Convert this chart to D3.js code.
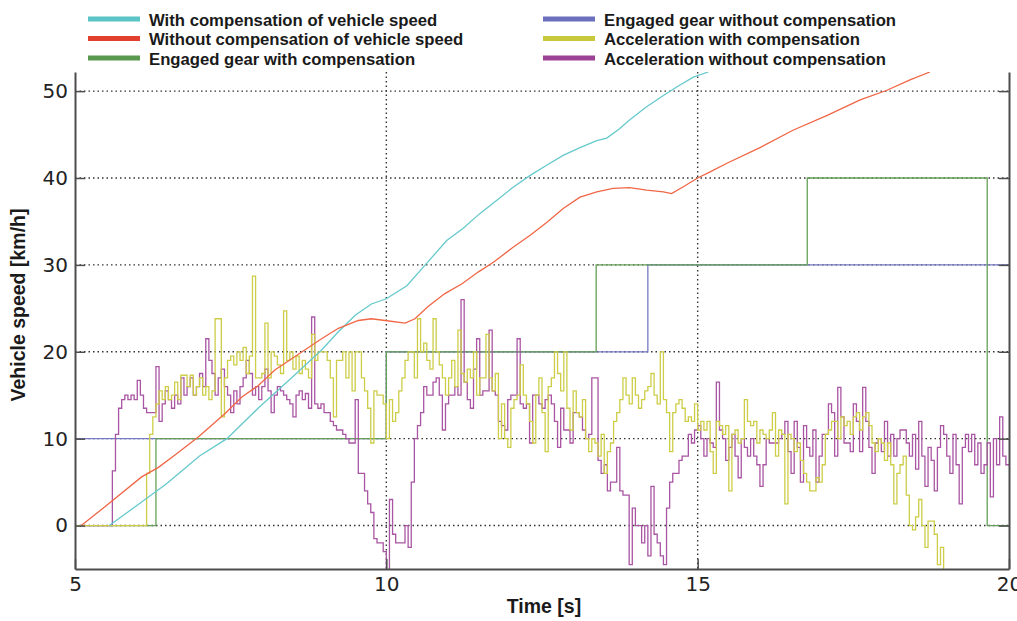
<!DOCTYPE html>
<html>
<head>
<meta charset="utf-8">
<title>Vehicle speed</title>
<script src="https://d3js.org/d3.v7.min.js"></script>
<style>
  body { margin: 0; background: #fff; }
  svg text { font-family: "Liberation Sans", Arial, sans-serif; }
  .grid line { stroke: #333; stroke-width: 1.4; stroke-dasharray: 1.5,3; }
  .axis path, .axis line { stroke: #4d4d4d; }
  .axis path { stroke-width: 2; }
  .axis line { stroke-width: 1.5; }
  .axis text { font-family: "DejaVu Sans", sans-serif; font-size: 20px; fill: #222; }
  .series { fill: none; stroke-width: 1.3; }
</style>
</head>
<body>
<svg id="chart" width="1017" height="621"></svg>
<script>
// ---- data ----
const xTicks = [5, 10, 15, 20];
const yTicks = [0, 10, 20, 30, 40, 50];

const seriesNames = [
  "With compensation of vehicle speed",
  "Without compensation of vehicle speed",
  "Engaged gear with compensation",
  "Engaged gear without compensation",
  "Acceleration with compensation",
  "Acceleration without compensation"
];

// vehicle speed with compensation (cyan)
const speedWithT = [5.55, 6.07, 6.47, 7.0, 7.44, 7.94, 8.48, 8.96, 9.23, 9.5, 9.76, 10.0, 10.33, 10.65, 10.97, 11.23, 11.5, 11.77, 12.03, 12.31, 12.58, 12.84, 13.11, 13.38, 13.54, 13.75, 13.91, 14.18, 14.45, 14.67, 14.93, 15.17];
const speedWithV = [0, 2.7, 4.8, 8.0, 10, 13.5, 17, 20.2, 22.3, 24.2, 25.5, 26.1, 27.6, 30.2, 32.8, 34.2, 35.9, 37.4, 38.9, 40.3, 41.5, 42.6, 43.5, 44.3, 44.6, 45.7, 46.7, 48.2, 49.5, 50.5, 51.6, 52.2];

// vehicle speed without compensation (red)
const speedWithoutT = [5.1, 5.54, 6.07, 6.34, 6.6, 6.98, 7.41, 7.68, 7.94, 8.21, 8.48, 8.75, 8.96, 9.23, 9.55, 9.76, 9.98, 10.3, 10.46, 10.67, 10.94, 11.21, 11.48, 11.72, 12.03, 12.31, 12.58, 12.84, 13.11, 13.38, 13.64, 13.91, 14.18, 14.45, 14.58, 14.77, 15.0, 15.2, 15.47, 16.0, 16.53, 17.08, 17.61, 18.04, 18.41, 18.73];
const speedWithoutV = [0, 2.5, 5.6, 6.7, 8.1, 10.2, 12.9, 14.8, 16.1, 17.9, 19.2, 20.5, 21.5, 22.7, 23.6, 23.8, 23.6, 23.3, 23.8, 25.2, 26.7, 27.8, 29.2, 30.3, 32, 33.4, 34.9, 36.5, 37.8, 38.4, 38.8, 38.9, 38.6, 38.4, 38.2, 39, 40, 40.7, 41.7, 43.5, 45.5, 47.2, 49, 50.1, 51.3, 52.2];

// engaged gear (step)
const gearWithT = [5, 6.3, 10, 13.37, 16.76, 19.65, 20];
const gearWithV = [0, 10, 20, 30, 40, 0, 0];
const gearWithoutT = [5, 10, 14.2, 20];
const gearWithoutV = [10, 20, 30, 30];

// acceleration samples, every 0.05 s from 5.00 s
const accStart = 5, accStep = 0.05;
const accWith = [
  0,0,0,0,0,0,0,0,0,0,0,0,0,0,0,0,0,0,0,0,
  0,0,0,6,10.5,12.5,14,15.5,14.5,16,14.5,15,16.5,14.5,17.3,17.3,16,17.3,15,16,
  17,15,16,14.5,15.5,23.8,23.8,12.5,17,19,19.5,18.5,20,19,20.5,17.5,19.5,28.7,17,17,
  17.5,23.3,17,20,19.5,18.5,17.5,24.7,19,20,18,19.5,17.5,19,18,17,22,19,20,20,
  20,19,17,12.5,19,19,20,17,20,15.5,20,20,17,15.5,13.5,9.5,15.5,15,15,14,
  10,14.5,12,13,15.5,17,19,20,20,17,23.8,20,21,19,18,23.8,20,18.5,17,15,
  17,19,16,22.5,17.5,16.5,18,17,20,15,17,17,22,17,15.5,17.5,10,14,10,9,
  13.5,14.5,15,18.5,15,14,12,9.5,15,17,13,8.5,16,17,20,17.5,15.5,20,13.5,11,
  15.5,13,12.5,14.5,10,8.5,10,9.5,8,10.5,6,8.5,9.5,12,13,14.5,17,15,14,17,
  15,13.5,14.5,15.5,16,17.5,15,14,20,14.5,13,8.5,13,14,14.5,13.5,12,12.5,12,14,
  11,12,11,12,8.5,6,12,11.5,10.5,11.5,4,10.5,11,9.5,10,14.5,12,11.5,12,9.5,
  11,10.5,10,11,13,8,11,10.5,2.5,10.5,10,8.5,9.5,7.5,6,5,4,4,5.5,5,
  7,10.5,11,12,12,10,12.5,11.5,12,10.5,12.5,13,11,12.5,13,11.5,9.5,8.5,10,9.5,
  7.5,9.5,7,2.5,6,7,8,3.5,0,-0.5,1,3,0,-2.5,0.5,0.5,-1,-4.5,-2.5,-6,
  -7,-7,-7,-7,-7,-7,-7,-7,-7,-7,-7,-7,-7,-7,-7,-7,-7,-7,-7,-7
];
const accWithout = [
  0,0,0,0,0,0,0,0,0,0,0,0,6.3,10.5,13.5,14.5,15,14.5,15,14.5,
  16.7,15,13.5,13,13,13,18.3,12,14,15.5,14.5,13.5,15,14,17,15,16,17,15,16,
  17.5,16,21.5,19,17.5,15,17,18,16,15,13,15.5,14,16,17,19,17.5,15,16,14.5,
  16,18,15.5,13,15,16,15.5,15,14.5,14,12.5,15,15.5,14.5,15.2,13.5,24,14,13.5,14,
  13,13,12,11.5,11,11,10.5,10,9.5,9.5,14.5,6,6,4,2.5,1.5,-1.5,-2,-2,-3,
  -5.5,3,-1,-2,-2,-2,0,-2.5,5,10,11.5,13,16,15,15,16.5,17,15,11,14,
  15,15,16,15,26,16.5,14.5,13.5,18,21.5,15,15.5,15.5,22.5,15.5,15,12,11.5,11,14.5,
  15,15,21.5,14,13.5,14,9.5,15,15,14,13.5,14.5,15,14,12,9,13.5,11,11,9.5,
  13,13,12.5,11,10,10.5,17,17,7.5,6,7,4,5,5,9,4,3.5,3.5,-4.5,2,
  0,0,-2,0,-3.5,4.5,-1,-2,-3.5,-4.5,2,5,6,6,7.5,8,8,10.5,9.5,11,
  11.5,10,8,10,9.5,9,16.5,11,10,7.5,9,10.5,8,5.5,10,9,8,10,8,7,
  4.5,7,10,9.5,9.5,9.5,10,10.5,12,8.5,6,12,9,5,11.5,9,8,11,5,8,
  10.5,10.5,14,13,8,15.9,12.5,9.5,9.5,8.5,14,12,8.5,15.9,12,9,6,9.5,10,8.5,
  12,8,10.5,8,10,11,11,9.5,8,10.5,6.5,12,8,4.5,9,7.5,4,9,11.5,10.5,
  8,6,10.5,7,2.5,9,10.5,8.5,10.5,7,9.5,6,7,9.5,3.3,10,7,12.5,8,7
];

// ---- styles ----
const lineColors = ["#66c9cb", "#f06646", "#65a058", "#767ac4", "#cdcd48", "#a955a3"];
const keyColors = ["#5bc4c6", "#e3402f", "#5a9850", "#6b6fbc", "#c7c83a", "#9c4294"];

// ---- layout ----
const svg = d3.select("#chart");
const plotL = 75, plotR = 1009, plotT = 72, plotB = 569;

const x = d3.scaleLinear().domain([5, 20]).range([plotL, plotR]);
const y = d3.scaleLinear().domain([-5, 52.2]).range([plotB, plotT]);

svg.append("defs").append("clipPath").attr("id", "plot")
  .append("rect")
  .attr("x", plotL).attr("y", plotT)
  .attr("width", plotR - plotL).attr("height", plotB - plotT);

// grid
const grid = svg.append("g").attr("class", "grid");
grid.selectAll(".h").data(yTicks).enter().append("line")
  .attr("x1", plotL).attr("x2", plotR)
  .attr("y1", d => y(d)).attr("y2", d => y(d));
grid.selectAll(".v").data(xTicks.filter(d => d > 5 && d < 20)).enter().append("line")
  .attr("x1", d => x(d)).attr("x2", d => x(d))
  .attr("y1", plotT).attr("y2", plotB);

// series
const pairs = (t, v) => t.map((d, i) => [d, v[i]]);
const accPairs = v => {
  const p = v.map((d, i) => [accStart + i * accStep, d]);
  p.push([20, v[v.length - 1]]);
  return p;
};

const line = d3.line().x(d => x(d[0])).y(d => y(d[1]));
const step = d3.line().x(d => x(d[0])).y(d => y(d[1])).curve(d3.curveStepAfter);

const plot = svg.append("g").attr("clip-path", "url(#plot)");
const drawn = [
  { data: pairs(gearWithoutT, gearWithoutV), gen: step, c: 3 },
  { data: pairs(gearWithT, gearWithV), gen: step, c: 2 },
  { data: accPairs(accWithout), gen: step, c: 5 },
  { data: accPairs(accWith), gen: step, c: 4 },
  { data: pairs(speedWithT, speedWithV), gen: line, c: 0 },
  { data: pairs(speedWithoutT, speedWithoutV), gen: line, c: 1 }
];
plot.selectAll("path").data(drawn).enter().append("path")
  .attr("class", "series")
  .attr("stroke", d => lineColors[d.c])
  .attr("d", d => d.gen(d.data));

// axes
svg.append("g").attr("class", "axis")
  .attr("transform", `translate(${plotL},0)`)
  .call(d3.axisLeft(y).tickValues(yTicks).tickSizeInner(-10).tickSizeOuter(0).tickPadding(7));
svg.append("g").attr("class", "axis")
  .attr("transform", `translate(${plotR},0)`)
  .call(d3.axisRight(y).tickValues(yTicks).tickSizeInner(-10).tickSizeOuter(0).tickFormat(""));
svg.append("g").attr("class", "axis")
  .attr("transform", `translate(0,${plotB})`)
  .call(d3.axisBottom(x).tickValues(xTicks).tickSizeInner(-10).tickSizeOuter(0).tickPadding(8));

// axis titles
svg.append("text")
  .attr("x", 544).attr("y", 613)
  .attr("text-anchor", "middle")
  .style("font-weight", "bold").style("font-size", "19.5px").style("fill", "#1a1a1a")
  .text("Time [s]");
svg.append("text")
  .attr("transform", "translate(25,305) rotate(-90)")
  .attr("text-anchor", "middle")
  .style("font-weight", "bold").style("font-size", "19.5px").style("fill", "#1a1a1a")
  .text("Vehicle speed [km/h]");

// legend
const legendCols = [88, 543];
const legendRows = [19, 38.5, 58];
const legend = svg.append("g").selectAll("g").data(seriesNames).enter().append("g")
  .attr("transform", (d, i) => `translate(${legendCols[Math.floor(i / 3)]},${legendRows[i % 3]})`);
legend.append("line")
  .attr("x1", 0).attr("x2", 52)
  .attr("stroke", (d, i) => keyColors[i]).attr("stroke-width", 5);
legend.append("text")
  .attr("x", 61).attr("y", 6.5)
  .style("font-weight", "bold").style("font-size", "16.7px").style("fill", "#1a1a1a")
  .text(d => d);
</script>
</body>
</html>
